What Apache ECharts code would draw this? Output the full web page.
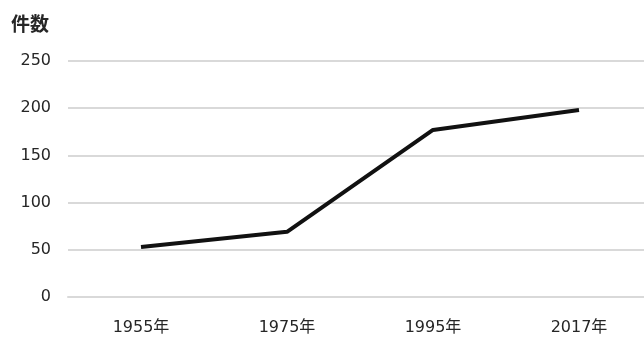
<!DOCTYPE html>
<html>
<head>
<meta charset="utf-8">
<script src="https://cdn.jsdelivr.net/npm/echarts@6/dist/echarts.min.js"></script>
<style>
  html, body { margin: 0; padding: 0; background: #fff; }
  #chart { width: 644px; height: 338px; }
</style>
</head>
<body>
<div id="chart"></div>
<script>
const categories = ['1955年', '1975年', '1995年', '2017年']
const counts = [53, 69, 177, 198]
const yTicks = { min: 0, max: 250, interval: 50 }

const font = '"DejaVu Sans", "Noto Sans CJK JP", sans-serif'
const chart = echarts.init(document.getElementById('chart'))
chart.setOption({
  backgroundColor: '#fff',
  animation: false,
  grid: {
    left: 68,
    top: 61,
    width: 584,
    height: 236,
    containLabel: false,
    outerBoundsMode: 'none'
  },
  xAxis: {
    type: 'category',
    data: categories,
    boundaryGap: true,
    axisTick: { show: false },
    axisLine: { lineStyle: { color: '#d9d9d9', width: 2 } },
    axisLabel: { margin: 23, fontSize: 16, color: '#262626', fontFamily: font }
  },
  yAxis: {
    type: 'value',
    min: yTicks.min,
    max: yTicks.max,
    interval: yTicks.interval,
    name: '件数',
    nameGap: 28,
    nameTextStyle: {
      align: 'right',
      padding: [0, 19, 0, 0],
      fontSize: 19,
      fontWeight: 'bold',
      color: '#262626',
      fontFamily: '"Noto Sans CJK JP", sans-serif'
    },
    axisLine: { show: false },
    axisTick: { show: false },
    axisLabel: { margin: 17, fontSize: 16, color: '#262626', fontFamily: font },
    splitLine: { lineStyle: { color: '#d9d9d9', width: 2 } }
  },
  series: [{
    type: 'line',
    data: counts,
    showSymbol: false,
    lineStyle: { color: '#111', width: 4 },
    itemStyle: { color: '#111' }
  }]
})
</script>
</body>
</html>
